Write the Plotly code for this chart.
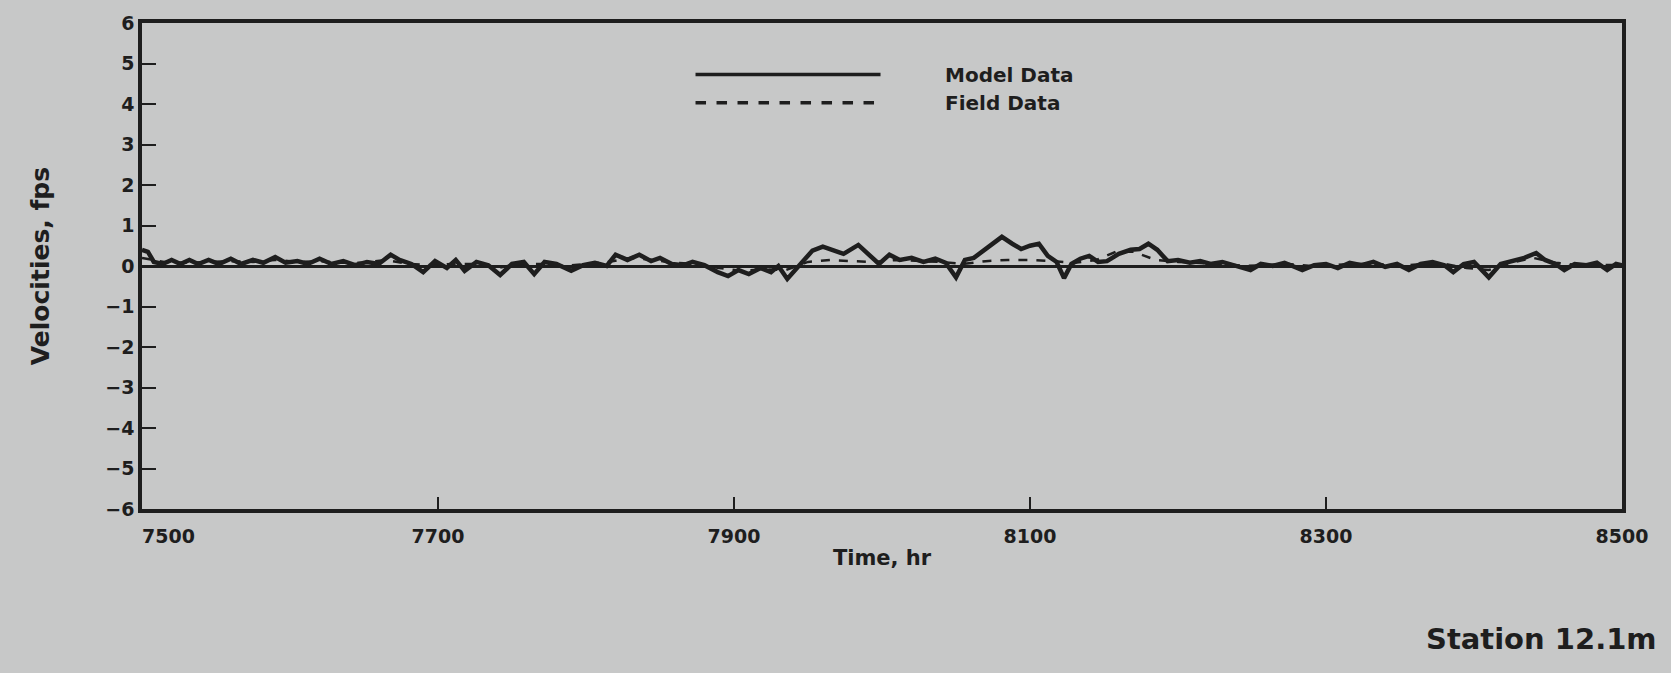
import plotly.graph_objects as go

# Model data (solid line)
model_time = [7500, 7504, 7508, 7514, 7520, 7526, 7532, 7538, 7545, 7552, 7560, 7567, 7575, 7582,
              7590, 7597, 7605, 7612, 7620, 7628, 7636, 7644, 7652, 7660, 7668, 7674, 7682, 7690,
              7698, 7706, 7712, 7718, 7726, 7734, 7742, 7750, 7758, 7765, 7772, 7780, 7790, 7798,
              7806, 7814, 7820, 7828, 7836, 7844, 7850, 7858, 7866, 7872, 7880, 7889, 7896, 7903,
              7910, 7918, 7925, 7930, 7936, 7944, 7953, 7960, 7967, 7974, 7984, 7991, 7998, 8005,
              8012, 8020, 8028, 8036, 8043, 8050, 8056, 8062, 8071, 8081, 8088, 8094, 8100, 8106,
              8112, 8118, 8123, 8128, 8134, 8140, 8146, 8152, 8160, 8168, 8174, 8180, 8186, 8193,
              8200, 8208, 8215, 8222, 8230, 8238, 8249, 8256, 8264, 8272, 8284, 8292, 8300, 8308,
              8316, 8324, 8332, 8340, 8348, 8356, 8364, 8372, 8380, 8386, 8393, 8400, 8410, 8418,
              8426, 8434, 8442, 8448, 8455, 8461, 8468, 8476, 8483, 8490, 8496, 8500]
model_vel = [0.40, 0.35, 0.10, 0.05, 0.15, 0.05, 0.15, 0.05, 0.15, 0.05, 0.18, 0.05, 0.15, 0.08,
             0.22, 0.08, 0.12, 0.05, 0.18, 0.05, 0.12, 0.02, 0.10, 0.05, 0.28, 0.15, 0.05, -0.15,
             0.12, -0.05, 0.15, -0.12, 0.10, 0.02, -0.22, 0.05, 0.10, -0.20, 0.10, 0.05, -0.12, 0.02,
             0.08, 0.00, 0.28, 0.15, 0.28, 0.12, 0.20, 0.05, 0.02, 0.10, 0.02, -0.15, -0.25, -0.10,
             -0.20, -0.05, -0.15, 0.00, -0.32, 0.00, 0.38, 0.48, 0.40, 0.30, 0.52, 0.30, 0.05, 0.28,
             0.15, 0.20, 0.10, 0.18, 0.08, -0.28, 0.15, 0.20, 0.45, 0.72, 0.55, 0.42, 0.50, 0.55,
             0.25, 0.10, -0.30, 0.05, 0.18, 0.25, 0.10, 0.12, 0.30, 0.40, 0.42, 0.55, 0.40, 0.12,
             0.15, 0.08, 0.12, 0.05, 0.10, 0.02, -0.10, 0.05, 0.00, 0.08, -0.10, 0.02, 0.05, -0.05,
             0.08, 0.02, 0.10, -0.02, 0.05, -0.10, 0.05, 0.10, 0.02, -0.15, 0.05, 0.10, -0.28, 0.05,
             0.12, 0.20, 0.32, 0.15, 0.05, -0.10, 0.05, 0.02, 0.08, -0.10, 0.05, 0.02]

# Field data (dashed line)
field_time = [7500, 7515, 7530, 7545, 7560, 7575, 7590, 7605, 7620, 7635, 7650, 7665, 7680, 7695,
              7710, 7725, 7740, 7755, 7770, 7785, 7800, 7815, 7830, 7845, 7860, 7875, 7890, 7905,
              7920, 7935, 7950, 7965, 7980, 7995, 8010, 8025, 8040, 8055, 8070, 8085, 8100, 8115,
              8130, 8145, 8158, 8170, 8185, 8200, 8215, 8230, 8245, 8260, 8275, 8290, 8305, 8320,
              8335, 8350, 8365, 8380, 8395, 8410, 8425, 8440, 8455, 8470, 8485, 8500]
field_vel = [0.20, 0.10, 0.08, 0.10, 0.12, 0.10, 0.15, 0.10, 0.12, 0.08, 0.08, 0.15, 0.05, 0.02,
             0.05, 0.05, -0.05, 0.05, 0.05, 0.00, 0.05, 0.10, 0.20, 0.15, 0.08, 0.05, -0.05, -0.12,
             -0.08, -0.10, 0.10, 0.15, 0.12, 0.10, 0.15, 0.12, 0.10, 0.05, 0.12, 0.15, 0.15, 0.12,
             0.08, 0.15, 0.35, 0.35, 0.15, 0.10, 0.08, 0.05, 0.00, 0.02, 0.05, 0.00, 0.02, 0.05,
             0.05, 0.00, 0.05, 0.05, -0.05, -0.10, 0.08, 0.20, 0.08, 0.02, 0.03, 0.02]

x_ticks = [7500, 7700, 7900, 8100, 8300, 8500]
x_labels = ["\u2007\u2007\u2007\u20077500", "7700", "7900", "8100", "8300", "8500"]
y_ticks = [-6, -5, -4, -3, -2, -1, 0, 1, 2, 3, 4, 5, 6]

ink = "#1e1e1e"
paper_bg = "#c7c8c8"
bold = dict(family="DejaVu Sans", size=19, color=ink, weight="bold")
legend_font = dict(family="DejaVu Sans", size=20, color=ink, weight="bold")

fig = go.Figure()

fig.add_trace(go.Scatter(x=field_time, y=field_vel, mode="lines", name="Field Data",
                         line=dict(color=ink, width=2.5, dash="dash")))
fig.add_trace(go.Scatter(x=model_time, y=model_vel, mode="lines", name="Model Data",
                         line=dict(color=ink, width=4.5)))

# hand-drawn legend like the original
fig.add_shape(type="line", xref="paper", yref="paper", x0=0.374, x1=0.499, y0=0.894, y1=0.894,
              line=dict(color=ink, width=3.5))
fig.add_shape(type="line", xref="paper", yref="paper", x0=0.374, x1=0.499, y0=0.836, y1=0.836,
              line=dict(color=ink, width=3.5, dash="dash"))
fig.add_annotation(xref="paper", yref="paper", x=0.541, y=0.894, text="Model Data",
                   showarrow=False, xanchor="left", yanchor="middle", font=legend_font)
fig.add_annotation(xref="paper", yref="paper", x=0.541, y=0.836, text="Field Data",
                   showarrow=False, xanchor="left", yanchor="middle", font=legend_font)

fig.add_annotation(xref="paper", yref="paper", x=1.025, y=-0.268, text="Station 12.1m",
                   showarrow=False, xanchor="right", yanchor="middle",
                   font=dict(family="DejaVu Sans", size=29, color=ink, weight=600))

fig.update_xaxes(range=[7500, 8500], tickvals=x_ticks, ticktext=x_labels, ticks="inside",
                 ticklen=12, tickwidth=2, tickcolor=ink, showline=True, mirror=True,
                 linewidth=3.5, linecolor=ink, showgrid=False, zeroline=False, tickfont=bold,
                 ticklabelstandoff=7,
                 title=dict(text="Time, hr", font=dict(family="DejaVu Sans", size=21, color=ink,
                                                        weight="bold"), standoff=6))
fig.update_yaxes(range=[-6, 6], tickvals=y_ticks, ticks="inside", ticklen=14, tickwidth=2,
                 tickcolor=ink, showline=True, mirror=True, linewidth=3.5, linecolor=ink,
                 showgrid=False, zeroline=True, zerolinecolor=ink, zerolinewidth=2.5,
                 tickfont=bold,
                 title=dict(text="Velocities, fps", font=dict(family="DejaVu Sans", size=25,
                                                                color=ink, weight="bold"),
                            standoff=50))

fig.update_layout(width=1671, height=673, showlegend=False,
                  paper_bgcolor=paper_bg, plot_bgcolor=paper_bg,
                  margin=dict(l=142, r=49, t=23, b=164))

fig.write_html("out.html", config={"displayModeBar": False},
               post_script="document.body.style.margin='0';"
                           "document.body.style.background='" + paper_bg + "';")
